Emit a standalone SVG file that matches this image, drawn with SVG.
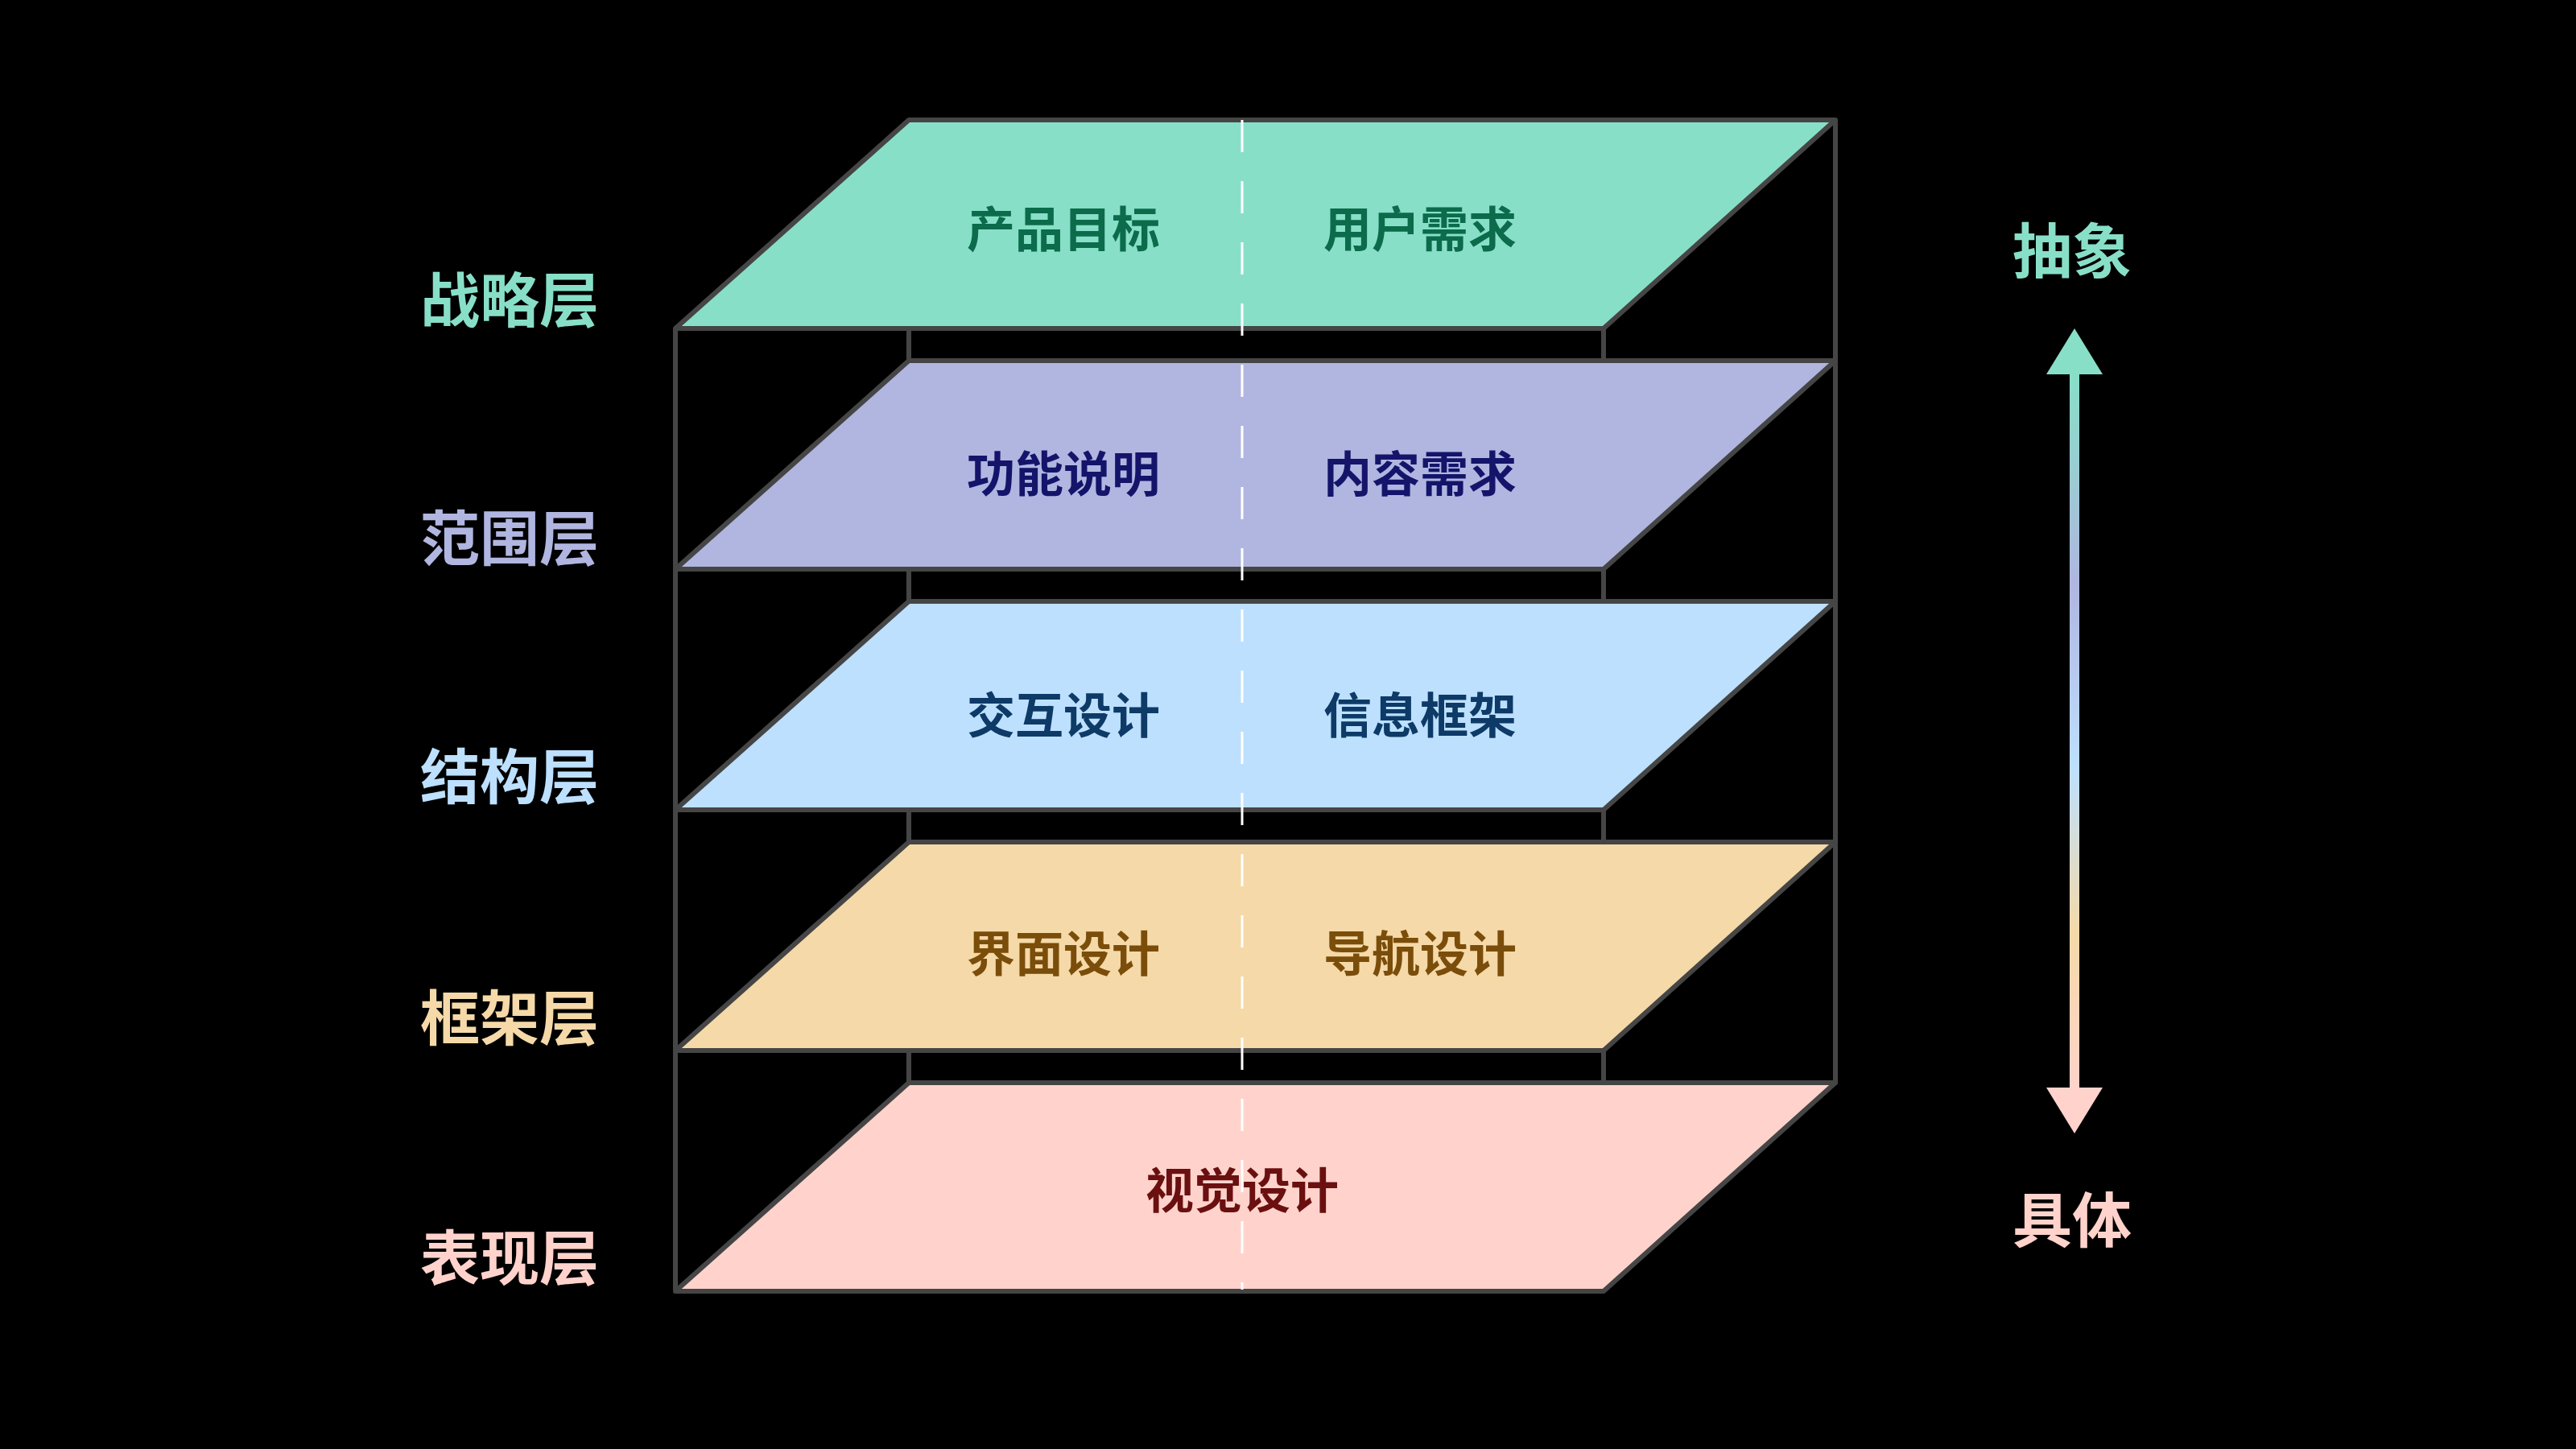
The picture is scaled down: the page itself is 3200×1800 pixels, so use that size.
<svg xmlns="http://www.w3.org/2000/svg" width="3200" height="1800" viewBox="0 0 3200 1800">
<defs>
<linearGradient id="g" x1="0" y1="0" x2="0" y2="1">
<stop offset="0" stop-color="#88dfc7"/><stop offset="0.3" stop-color="#b0b6e0"/><stop offset="0.55" stop-color="#bde0fe"/><stop offset="0.78" stop-color="#f5d9a8"/><stop offset="1" stop-color="#ffd3cc"/>
</linearGradient>
<style>
.pl{stroke:#454545;stroke-width:6;stroke-linejoin:round}
.fr{stroke:#454545;stroke-width:6;fill:none}
.t{font-family:"Noto Sans CJK SC",sans-serif;font-weight:bold;font-size:60px;text-anchor:middle;dominant-baseline:central}
.l{font-family:"Noto Sans CJK SC",sans-serif;font-weight:bold;font-size:74px;text-anchor:middle;dominant-baseline:central}
</style>
</defs>
<rect width="3200" height="1800" fill="#000"/>
<g id="frame">
<line class="fr" x1="839" y1="408" x2="839" y2="1603"/>
<line class="fr" x1="2280" y1="149" x2="2280" y2="1347"/>
<path class="fr" d="M1129 408V448M1992 408V448M1129 707V747M1992 707V747M1129 1006V1046M1992 1006V1046M1129 1305V1345M1992 1305V1345"/>
</g>
<g id="layer1"><polygon class="pl" fill="#88dfc7" points="1129,149 2280,149 1992,408 839,408"/>
<text class="t" x="1321" y="280" fill="#0b6b4b">产品目标</text><text class="t" x="1764" y="280" fill="#0b6b4b">用户需求</text></g>
<g id="layer2"><polygon class="pl" fill="#b0b6e0" points="1129,448 2280,448 1992,707 839,707"/>
<text class="t" x="1321" y="584" fill="#14146a">功能说明</text><text class="t" x="1764" y="584" fill="#14146a">内容需求</text></g>
<g id="layer3"><polygon class="pl" fill="#bde0fe" points="1129,747 2280,747 1992,1006 839,1006"/>
<text class="t" x="1321" y="884" fill="#0d3a66">交互设计</text><text class="t" x="1764" y="884" fill="#0d3a66">信息框架</text></g>
<g id="layer4"><polygon class="pl" fill="#f5d9a8" points="1129,1046 2280,1046 1992,1305 839,1305"/>
<text class="t" x="1321" y="1180" fill="#7a4d0a">界面设计</text><text class="t" x="1764" y="1180" fill="#7a4d0a">导航设计</text></g>
<g id="layer5"><polygon class="pl" fill="#ffd3cc" points="1129,1345 2280,1345 1992,1604 839,1604"/>
<text class="t" x="1543" y="1474" fill="#6a1010">视觉设计</text></g>
<g id="connectors">
<line x1="1543" y1="149" x2="1543" y2="1602" stroke="#fff" stroke-width="3" stroke-dasharray="40,36"/>
<rect x="2571" y="460" width="12" height="898" fill="url(#g)"/>
<polygon points="2577,408 2542,465 2612,465" fill="#88dfc7"/>
<polygon points="2577,1408 2542,1351 2612,1351" fill="#ffd3cc"/>
</g>
<g id="labels">
<text class="l" x="633" y="367" fill="#88dfc7">战略层</text>
<text class="l" x="633" y="663" fill="#b0b6e0">范围层</text>
<text class="l" x="633" y="959" fill="#bde0fe">结构层</text>
<text class="l" x="633" y="1259" fill="#f5d9a8">框架层</text>
<text class="l" x="633" y="1557" fill="#ffd3cc">表现层</text>
<text class="l" x="2574" y="306" fill="#88dfc7">抽象</text>
<text class="l" x="2574" y="1510" fill="#ffd3cc">具体</text>
</g>
</svg>
